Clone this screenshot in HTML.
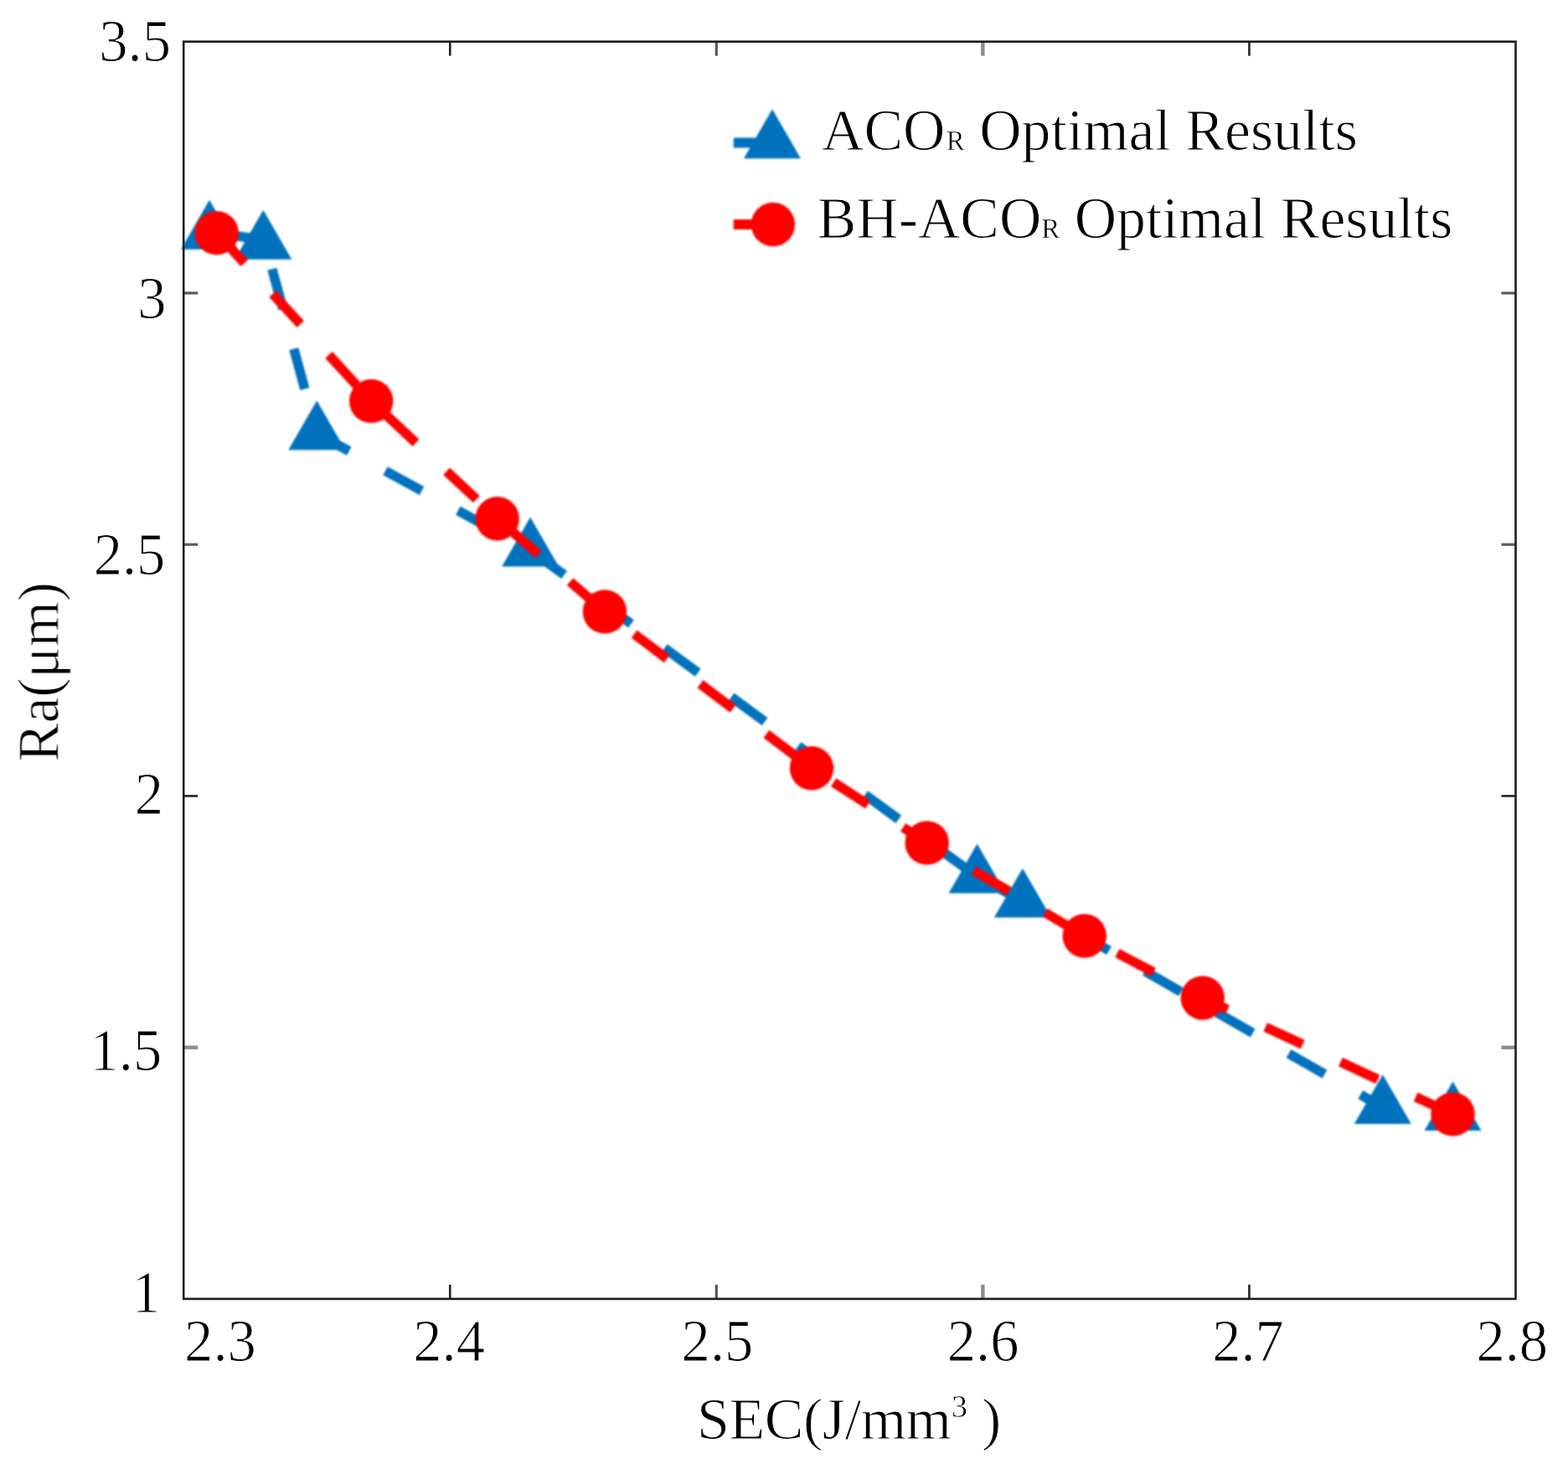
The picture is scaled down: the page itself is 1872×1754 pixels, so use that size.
<!DOCTYPE html>
<html lang="en"><head><meta charset="utf-8"><title>ACOR vs BH-ACOR Optimal Results</title>
<style>
html,body{margin:0;padding:0;background:#fff;}
body{width:1872px;height:1754px;overflow:hidden;}
svg{display:block;}
.soft{filter:blur(0.80px);}
.softtext{filter:blur(0.65px);}
.softaxes{filter:blur(0.35px);}
text{font-family:"Liberation Serif", "DejaVu Serif", serif;font-size:70px;fill:#000;stroke:#fff;stroke-width:1.00px;paint-order:fill stroke;stroke-linejoin:round;}
</style></head><body>
<svg width="1872" height="1754" viewBox="0 0 1872 1754">
<rect x="0" y="0" width="1872" height="1754" fill="#ffffff"/>
<defs><clipPath id="plotclip"><rect x="216.20" y="46.70" width="1596.30" height="1507.20"/></clipPath></defs>
<g class="soft">
<g id="series-aco" clip-path="url(#plotclip)">
<polyline points="250.00,276.70 315.50,286.80 378.30,517.60 633.10,656.80 1166.60,1046.80 1220.90,1075.90 1650.80,1322.30 1734.50,1330.40" fill="none" stroke="#0072bd" stroke-width="11.50" stroke-dasharray="49.60 49.30" stroke-dashoffset="-3.00"/>
<polygon points="250.00,238.74 284.00,297.63 216.00,297.63" fill="#0072bd"/>
<polygon points="314.30,250.74 348.30,309.63 280.30,309.63" fill="#0072bd"/>
<polygon points="378.30,478.34 412.30,537.23 344.30,537.23" fill="#0072bd"/>
<polygon points="633.10,617.54 667.10,676.43 599.10,676.43" fill="#0072bd"/>
<polygon points="1166.60,1007.54 1200.60,1066.43 1132.60,1066.43" fill="#0072bd"/>
<polygon points="1220.90,1036.64 1254.90,1095.53 1186.90,1095.53" fill="#0072bd"/>
<polygon points="1650.80,1283.04 1684.80,1341.93 1616.80,1341.93" fill="#0072bd"/>
<polygon points="1734.50,1291.14 1768.50,1350.03 1700.50,1350.03" fill="#0072bd"/>
</g>
<g id="series-bhaco">
<polyline points="258.70,278.10 443.20,478.90 593.70,619.20 722.00,730.40 969.00,917.20 1106.70,1006.40 1294.80,1117.50 1435.80,1191.50 1734.50,1330.40" fill="none" stroke="#ff0000" stroke-width="11.50" stroke-dasharray="49.00 49.90" stroke-dashoffset="0.00"/>
<circle cx="258.70" cy="278.10" r="26.20" fill="#ff0000"/>
<circle cx="443.20" cy="478.90" r="26.20" fill="#ff0000"/>
<circle cx="593.70" cy="619.20" r="26.20" fill="#ff0000"/>
<circle cx="722.00" cy="730.40" r="26.20" fill="#ff0000"/>
<circle cx="969.00" cy="917.20" r="26.20" fill="#ff0000"/>
<circle cx="1106.70" cy="1006.40" r="26.20" fill="#ff0000"/>
<circle cx="1294.80" cy="1117.50" r="26.20" fill="#ff0000"/>
<circle cx="1435.80" cy="1191.50" r="26.20" fill="#ff0000"/>
<circle cx="1734.50" cy="1330.40" r="26.20" fill="#ff0000"/>
</g>
</g>
<g id="axes" class="softaxes" fill="none" stroke="#1c1c1c" stroke-width="2.60" stroke-linecap="butt">
<line x1="537.26" y1="1550.90" x2="537.26" y2="1533.90" stroke="#222222" stroke-width="2.6"/>
<line x1="537.26" y1="49.70" x2="537.26" y2="66.70" stroke="#222222" stroke-width="2.6"/>
<line x1="219.20" y1="349.94" x2="236.20" y2="349.94" stroke="#5a5a5a" stroke-width="3.2"/>
<line x1="1809.50" y1="349.94" x2="1792.50" y2="349.94" stroke="#5a5a5a" stroke-width="3.2"/>
<line x1="855.32" y1="1550.90" x2="855.32" y2="1533.90" stroke="#5a5a5a" stroke-width="3.2"/>
<line x1="855.32" y1="49.70" x2="855.32" y2="66.70" stroke="#5a5a5a" stroke-width="3.2"/>
<line x1="219.20" y1="650.18" x2="236.20" y2="650.18" stroke="#5a5a5a" stroke-width="3.2"/>
<line x1="1809.50" y1="650.18" x2="1792.50" y2="650.18" stroke="#5a5a5a" stroke-width="3.2"/>
<line x1="1173.38" y1="1550.90" x2="1173.38" y2="1533.90" stroke="#8c8c8c" stroke-width="4.4"/>
<line x1="1173.38" y1="49.70" x2="1173.38" y2="66.70" stroke="#8c8c8c" stroke-width="4.4"/>
<line x1="219.20" y1="950.42" x2="236.20" y2="950.42" stroke="#222222" stroke-width="2.6"/>
<line x1="1809.50" y1="950.42" x2="1792.50" y2="950.42" stroke="#222222" stroke-width="2.6"/>
<line x1="1491.44" y1="1550.90" x2="1491.44" y2="1533.90" stroke="#222222" stroke-width="2.6"/>
<line x1="1491.44" y1="49.70" x2="1491.44" y2="66.70" stroke="#222222" stroke-width="2.6"/>
<line x1="219.20" y1="1250.66" x2="236.20" y2="1250.66" stroke="#8c8c8c" stroke-width="4.4"/>
<line x1="1809.50" y1="1250.66" x2="1792.50" y2="1250.66" stroke="#8c8c8c" stroke-width="4.4"/>
<rect x="219.20" y="49.70" width="1590.30" height="1501.20"/>
</g>
<g class="softtext">
<g id="xticklabels">
<text transform="translate(262.95 1625.00) scale(0.9800 1.0300)" text-anchor="middle">2.3</text>
<text transform="translate(536.05 1625.00) scale(0.9800 1.0300)" text-anchor="middle">2.4</text>
<text transform="translate(856.45 1625.00) scale(0.9800 1.0300)" text-anchor="middle">2.5</text>
<text transform="translate(1173.55 1625.00) scale(0.9800 1.0300)" text-anchor="middle">2.6</text>
<text transform="translate(1490.00 1625.00) scale(0.9800 1.0300)" text-anchor="middle">2.7</text>
<text transform="translate(1805.25 1625.00) scale(0.9800 1.0300)" text-anchor="middle">2.8</text>
</g>
<g id="yticklabels">
<text transform="translate(204.00 72.80) scale(0.9800 1.0300)" text-anchor="end">3.5</text>
<text transform="translate(198.60 380.00) scale(0.9800 1.0300)" text-anchor="end">3</text>
<text transform="translate(197.40 686.30) scale(0.9800 1.0300)" text-anchor="end">2.5</text>
<text transform="translate(195.00 971.50) scale(0.9800 1.0300)" text-anchor="end">2</text>
<text transform="translate(193.20 1278.30) scale(0.9800 1.0300)" text-anchor="end">1.5</text>
<text transform="translate(191.50 1567.00) scale(0.9800 1.0300)" text-anchor="end">1</text>
</g>
<text transform="translate(832.00 1717.60) scale(1.0000 1.0050)" text-anchor="start" id="xlabel"><tspan letter-spacing="-0.45">SEC(J/mm</tspan><tspan font-size="38px" dx="0.50" dy="-25.40" stroke-width="0.5">3</tspan><tspan dx="-0.50" dy="25.40"> )</tspan></text>
<text transform="translate(69.80 909.90) rotate(-90) scale(1.0000 1.0050)" text-anchor="start" id="ylabel" letter-spacing="-0.25">Ra(μm)</text>
</g>
<g id="legend">
<g class="soft">
<line x1="875.80" y1="170.50" x2="922.00" y2="170.50" stroke="#0072bd" stroke-width="11.80"/>
<polygon points="922.00,130.24 956.00,189.13 888.00,189.13" fill="#0072bd"/>
<line x1="875.80" y1="268.00" x2="922.90" y2="268.00" stroke="#ff0000" stroke-width="11.80"/>
<circle cx="922.90" cy="268.00" r="26.20" fill="#ff0000"/>
</g>
<g class="softtext">
<text transform="translate(981.00 178.60) scale(0.9970 1.0050)" text-anchor="start">ACO<tspan font-size="33px" dx="1.50" stroke-width="0.5">R</tspan><tspan dx="0.00"> Optimal Results</tspan></text>
<text transform="translate(975.80 284.30) scale(0.9970 1.0050)" text-anchor="start">BH-ACO<tspan font-size="33px" dx="0.00" stroke-width="0.5">R</tspan><tspan dx="0.00"> Optimal Results</tspan></text>
</g>
</g>
</svg>
</body></html>
